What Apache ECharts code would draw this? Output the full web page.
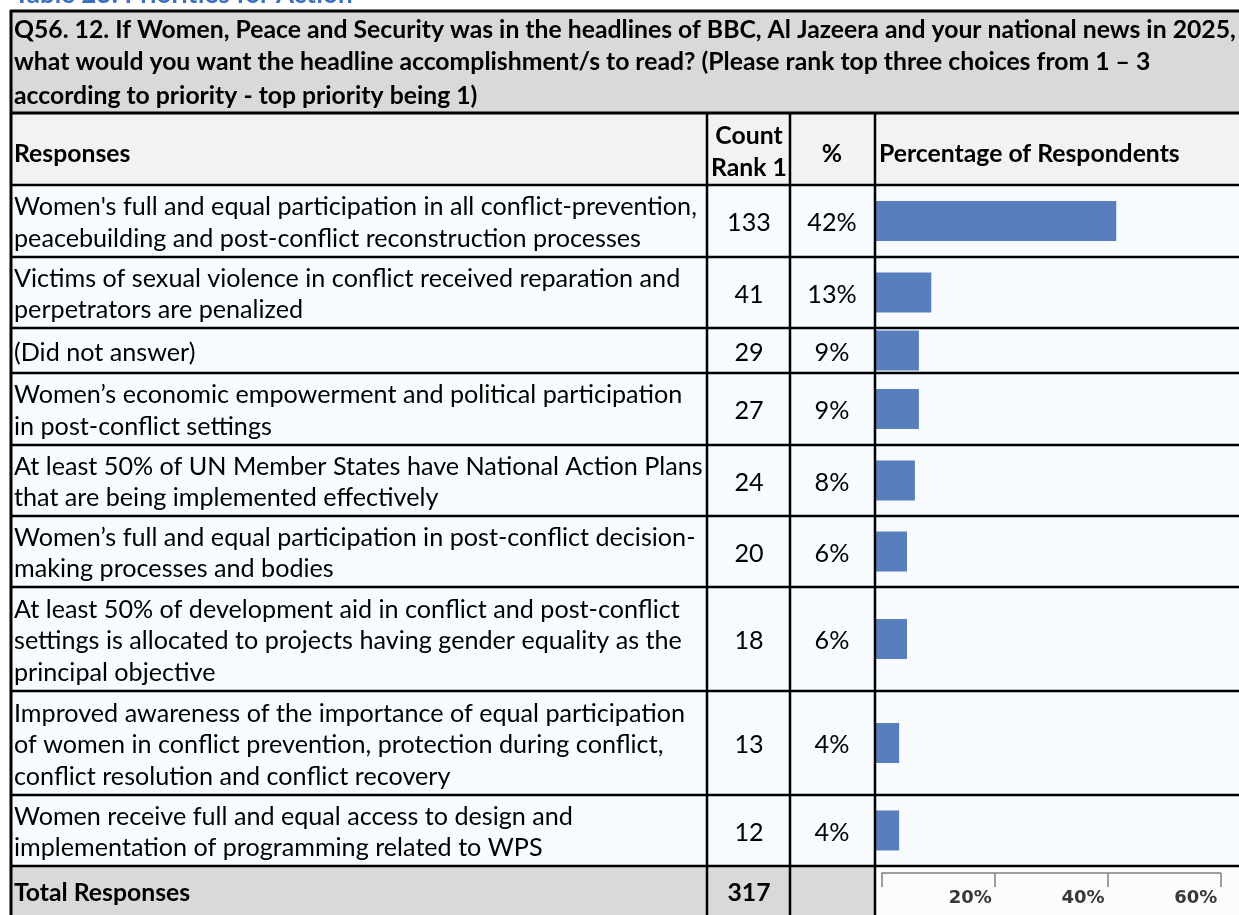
<!DOCTYPE html>
<html><head><meta charset="utf-8">
<script src="https://cdn.jsdelivr.net/npm/echarts/dist/echarts.min.js"></script>
<style>html,body{margin:0;padding:0;background:#fff}#c{width:1239px;height:915px}</style>
</head><body><div id="c"></div>
<script>
// ---------- data ----------
const tableTitle = 'Table 23: Priorities for Action';
const questionLines = [
  'Q56. 12. If Women, Peace and Security was in the headlines of BBC, Al Jazeera and your national news in 2025,',
  'what would you want the headline accomplishment/s to read? (Please rank top three choices from 1 \u2013 3',
  'according to priority - top priority being 1)'
];
const headerResponses = 'Responses';
const headerCount = ['Count', 'Rank 1'];
const headerPct = '%';
const headerChart = 'Percentage of Respondents';
const responses = [
  ["Women's full and equal participation in all conflict-prevention,", 'peacebuilding and post-conflict reconstruction processes'],
  ['Victims of sexual violence in conflict received reparation and', 'perpetrators are penalized'],
  ['(Did not answer)'],
  ['Women\u2019s economic empowerment and political participation', 'in post-conflict settings'],
  ['At least 50% of UN Member States have National Action Plans', 'that are being implemented effectively'],
  ['Women\u2019s full and equal participation in post-conflict decision-', 'making processes and bodies'],
  ['At least 50% of development aid in conflict and post-conflict', 'settings is allocated to projects having gender equality as the', 'principal objective'],
  ['Improved awareness of the importance of equal participation', 'of women in conflict prevention, protection during conflict,', 'conflict resolution and conflict recovery'],
  ['Women receive full and equal access to design and', 'implementation of programming related to WPS']
];
const counts = [133, 41, 29, 27, 24, 20, 18, 13, 12];
const pctLabels = ['42%', '13%', '9%', '9%', '8%', '6%', '6%', '4%', '4%'];
// bar lengths as drawn in the picture (percent units of the chart scale)
const barValues = [42.6, 9.8, 7.6, 7.6, 6.9, 5.5, 5.5, 4.1, 4.1];
const totalLabel = 'Total Responses';
const totalCount = 317;
const tickValues = [0, 20, 40, 60];
const tickLabels = ['', '20%', '40%', '60%'];

// ---------- layout ----------
const FAM = 'Lato, "Open Sans", sans-serif';
function fit(text, weight, target) {
  const c = document.createElement('canvas').getContext('2d');
  c.font = weight + ' 100px ' + FAM;
  return 100 * target / c.measureText(text).width;
}
const fsBody = fit(responses[0][0], 'normal', 683);
const fsBold = fit(questionLines[0], 'bold', 1222);

const L = 10, R = 1245;
const colX = [707, 790, 875];
const rowB = [185, 257, 328, 373, 445, 516, 587, 691, 795, 866];
const LH = 31.5;
const BG_DATA = '#f7fbfe', BG_HEAD = '#f2f2f2', BG_TITLE = '#d9d9d9';
const BAR = '#587ebd';
const PX_PER = 5.64; // px per percent

const g = [];
function rect(x, y, w, h, fill) { g.push({type: 'rect', shape: {x, y, width: w, height: h}, style: {fill}, silent: true, z: 0}); }
function line(x1, y1, x2, y2, w, c) { g.push({type: 'line', shape: {x1, y1, x2, y2}, style: {stroke: c || '#000', lineWidth: w || 2}, silent: true, z: 10}); }
function text(t, x, y, opt) {
  opt = opt || {};
  g.push({type: 'text', x, y, silent: true, z: 20, style: {
    text: t, fontFamily: FAM, fontSize: opt.size || fsBody, fontWeight: opt.bold ? 'bold' : 'normal',
    fill: opt.color || '#000', align: opt.align || 'left', verticalAlign: 'middle'}});
}

// backgrounds
rect(L, 10, R - L, 103, BG_TITLE);
rect(L, 113, R - L, 72, BG_HEAD);
rect(L, 185, R - L, 681, BG_DATA);
rect(L, 866, colX[2] - L, 60, BG_TITLE);
rect(colX[2], 866, R - colX[2], 60, '#fbfdfd');

// title (partially cut at top)
text(tableTitle, 14, -5.5, {bold: true, size: fsBold * 1.05, color: '#3d6fbf'});
// question
const qy = [30, 62, 96];
questionLines.forEach((t, i) => text(t, 14, qy[i], {bold: true, size: fsBold}));
// headers
text(headerResponses, 14, 154, {bold: true, size: fsBold});
text(headerCount[0], 749, 136, {bold: true, size: fsBold, align: 'center'});
text(headerCount[1], 749, 168, {bold: true, size: fsBold, align: 'center'});
text(headerPct, 832, 154, {bold: true, size: fsBold, align: 'center'});
text(headerChart, 879, 154, {bold: true, size: fsBold});

// rows
responses.forEach((lines, i) => {
  const top = rowB[i], bot = rowB[i + 1];
  const cy = (top + bot) / 2 + 2;
  lines.forEach((t, k) => text(t, 14, cy + (k - (lines.length - 1) / 2) * LH));
  text(String(counts[i]), 749, cy, {align: 'center'});
  text(pctLabels[i], 832, cy, {align: 'center'});
});
text(totalLabel, 14, 893, {bold: true, size: fsBold});
text(String(totalCount), 749, 893, {bold: true, size: fsBold, align: 'center'});

// borders
line(L, 11, R, 11, 3);
line(L, 113, R, 113, 3);
rowB.forEach(y => line(L, y, R, y, 2.5));
line(L + 1, 10, L + 1, 915, 3);
colX.forEach(x => line(x, 113, x, 915, 2.5));

// ---------- chart ----------
const grids = [], xAxes = [], yAxes = [], series = [];
barValues.forEach((v, i) => {
  grids.push({left: 876, top: rowB[i], width: 60 * PX_PER, height: rowB[i + 1] - rowB[i]});
  xAxes.push({gridIndex: i, type: 'value', min: 0, max: 60, show: false});
  yAxes.push({gridIndex: i, type: 'category', data: [String(i)], show: false});
  series.push({type: 'bar', xAxisIndex: i, yAxisIndex: i, data: [v], barWidth: 40,
    itemStyle: {color: BAR}, silent: true, animation: false});
});
// bottom scale
const ai = barValues.length;
grids.push({left: 882, top: 872, width: 60 * PX_PER, height: 1});
xAxes.push({gridIndex: ai, type: 'value', min: 0, max: 60, interval: 20, position: 'bottom',
  axisLine: {show: true, lineStyle: {color: '#7f7f7f', width: 1.5}},
  axisTick: {show: true, length: 14, lineStyle: {color: '#7f7f7f', width: 1.5}},
  splitLine: {show: false},
  axisLabel: {show: true, margin: 16, align: 'right', padding: [0, 3, 0, 0],
    fontFamily: '"DejaVu Sans", sans-serif', fontWeight: 'bold', fontSize: 18, color: '#383838',
    formatter: v => tickLabels[tickValues.indexOf(v)] || ''}});
yAxes.push({gridIndex: ai, type: 'value', show: false});
series.push({type: 'bar', xAxisIndex: ai, yAxisIndex: ai, data: [], silent: true});

const chart = echarts.init(document.getElementById('c'), null, {renderer: 'canvas'});
chart.setOption({
  animation: false,
  grid: grids, xAxis: xAxes, yAxis: yAxes, series,
  graphic: {elements: g}
});
</script></body></html>
